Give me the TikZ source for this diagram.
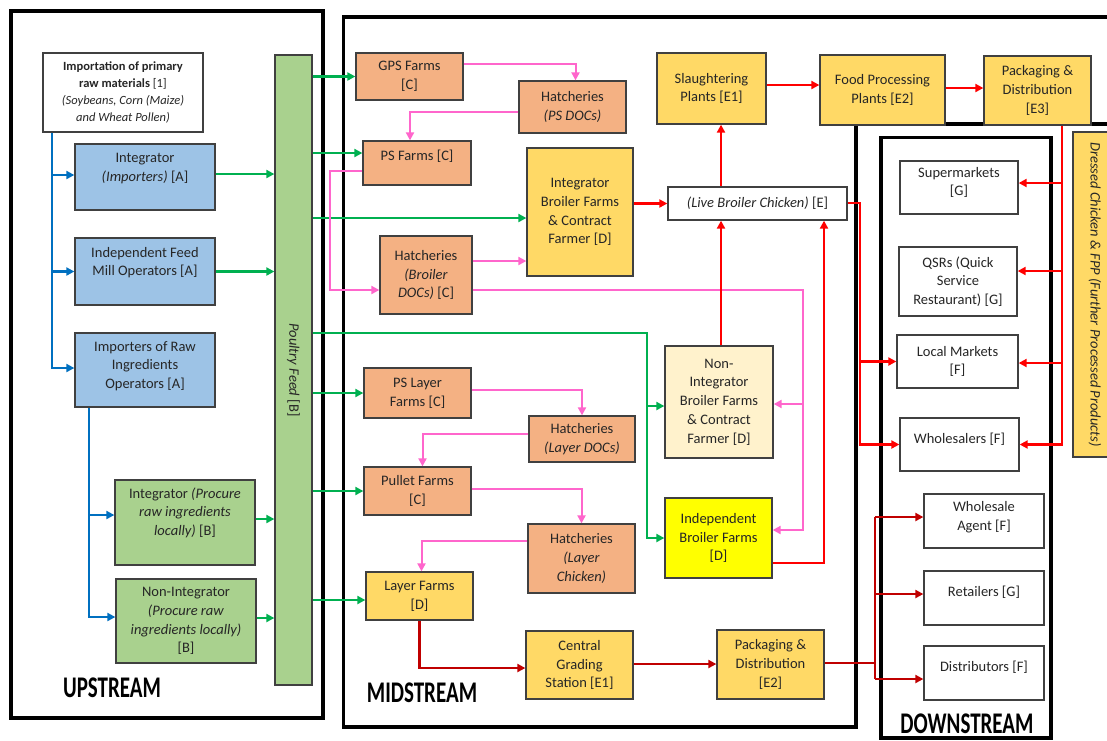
\documentclass[tikz,border=0pt]{standalone}
\usepackage{fontspec}
\setmainfont{Carlito}
\usepackage{graphicx}
\usepackage{tikz}
\usetikzlibrary{arrows.meta,calc}

\definecolor{txt}{HTML}{262626}
\definecolor{boxline}{HTML}{404040}
\definecolor{upblue}{HTML}{9DC3E6}
\definecolor{upgreen}{HTML}{A9D18E}
\definecolor{salmon}{HTML}{F4B183}
\definecolor{gold}{HTML}{FFD966}
\definecolor{cream}{HTML}{FFF2CC}
\definecolor{brightyellow}{HTML}{FFFF00}
\definecolor{feedgreen}{HTML}{00B050}
\definecolor{hatchpink}{HTML}{FF66CC}
\definecolor{flowblue}{HTML}{0070C0}
\definecolor{flowred}{HTML}{FF0000}
\definecolor{darkred}{HTML}{C00000}

\begin{document}
\begin{tikzpicture}[x=1pt,y=-1pt,
  every node/.style={font=\fontsize{14.5}{18.7}\selectfont, text=txt},
  box/.style={draw=boxline, line width=1.3pt, align=center, inner sep=2pt},
  raised/.style={text depth=#1},
  region/.style={line width=3.8pt},
  stage/.style={font=\fontsize{30}{30}\selectfont\bfseries, text=black},
  tip/.style={-{Triangle[length=8pt,width=8pt]}},
  blueline/.style={draw=flowblue, line width=2.2pt},
  greenline/.style={draw=feedgreen, line width=2.2pt},
  pinkline/.style={draw=hatchpink, line width=2pt},
  redline/.style={draw=flowred, line width=2.2pt},
  darkline/.style={draw=darkred, line width=2.2pt}]
\useasboundingbox[fill=white] (0,0) rectangle (1107,740);

\draw[region] (11,11) rectangle (323,718);
\draw[region] (1107,17) -- (343.5,17) -- (343.5,727) -- (856,727) -- (856,124) -- (1107,124);
\draw[region] (881,137.5) rectangle (1051,738);

\node[stage] (upstream) at (112,688) {\scalebox{0.7}[1]{UPSTREAM}};
\node[stage] (midstream) at (422,693) {\scalebox{0.7}[1]{MIDSTREAM}};
\node[stage] (downstream) at (967,724) {\scalebox{0.7}[1]{DOWNSTREAM}};

\node[box, fill=white, minimum width=160, minimum height=79, font=\fontsize{12.5}{17}\selectfont] (imp) at (123,92.5)
  {\textbf{Importation of primary}\\\textbf{raw materials} [1]\\\textit{(Soybeans, Corn (Maize)}\\\textit{and Wheat Pollen)}};
\node[box, raised=20pt, fill=upblue, minimum width=140, minimum height=66] (intA) at (145,177) {Integrator\\\textit{(Importers)} [A]};
\node[box, raised=20pt, fill=upblue, minimum width=140, minimum height=67] (feedA) at (145,271.5) {Independent Feed\\Mill Operators [A]};
\node[box, raised=10pt, fill=upblue, minimum width=140, minimum height=74] (rawA) at (145,370) {Importers of Raw\\Ingredients\\Operators [A]};
\node[box, raised=22pt, fill=upgreen, minimum width=140, minimum height=85] (intB) at (185,522.5) {Integrator \textit{(Procure}\\\textit{raw ingredients}\\\textit{locally)} [B]};
\node[box, fill=upgreen, minimum width=140, minimum height=84] (nonB) at (186,621) {Non-Integrator\\\textit{(Procure raw}\\\textit{ingredients locally)}\\{[B]}};
\node[box, fill=upgreen, minimum width=37, minimum height=630] (feed) at (293.5,370) {\rotatebox{-90}{\textit{Poultry Feed} [B]}};

\node[box, fill=salmon, minimum width=107, minimum height=47] (gps) at (409.5,76.5) {GPS Farms\\{[C]}};
\node[box, fill=salmon, minimum width=107, minimum height=52] (hps) at (572.5,107) {Hatcheries\\\textit{(PS DOCs)}};
\node[box, raised=16pt, fill=salmon, minimum width=108, minimum height=44] (psf) at (417,163) {PS Farms [C]};
\node[box, fill=gold, minimum width=106, minimum height=128] (ibf) at (580,212) {Integrator\\Broiler Farms\\\& Contract\\Farmer [D]};
\node[box, fill=salmon, minimum width=92, minimum height=78] (hbd) at (426,275) {Hatcheries\\\textit{(Broiler}\\\textit{DOCs)} [C]};
\node[box, fill=salmon, minimum width=107, minimum height=50] (pslf) at (417.5,393) {PS Layer\\Farms [C]};
\node[box, fill=salmon, minimum width=106, minimum height=46] (hld) at (582,439) {Hatcheries\\\textit{(Layer DOCs)}};
\node[box, fill=salmon, minimum width=107, minimum height=48] (pul) at (417.5,491) {Pullet Farms\\{[C]}};
\node[box, fill=salmon, minimum width=107, minimum height=69] (hlc) at (581.5,558.5) {Hatcheries\\\textit{(Layer}\\\textit{Chicken)}};
\node[box, fill=gold, minimum width=107, minimum height=48] (lay) at (419.5,596) {Layer Farms\\{[D]}};
\node[box, fill=gold, minimum width=107, minimum height=68] (cgs) at (579.5,665) {Central\\Grading\\Station [E1]};
\node[box, fill=gold, minimum width=107, minimum height=69] (pd2) at (770.5,664.5) {Packaging \&\\Distribution\\{[E2]}};
\node[box, fill=gold, minimum width=109, minimum height=71] (sp) at (711.5,88.5) {Slaughtering\\Plants [E1]};
\node[box, fill=gold, minimum width=125, minimum height=70] (fpp) at (882.5,90) {Food Processing\\Plants [E2]};
\node[box, fill=gold, minimum width=107, minimum height=69] (pd3) at (1037.5,90.5) {Packaging \&\\Distribution\\{[E3]}};
\node[box, fill=white, minimum width=179, minimum height=33] (lbc) at (757.5,203.5) {\textit{(Live Broiler Chicken)} [E]};
\node[box, fill=cream, minimum width=108, minimum height=112] (npi) at (719,402) {Non-\\Integrator\\Broiler Farms\\\& Contract\\Farmer [D]};
\node[box, fill=brightyellow, minimum width=107, minimum height=80] (ibfm) at (718.5,538) {Independent\\Broiler Farms\\{[D]}};

\node[box, raised=12pt, fill=white, minimum width=118, minimum height=53] (sm) at (959,187.5) {Supermarkets\\{[G]}};
\node[box, fill=white, minimum width=118, minimum height=69] (qsr) at (958,281.5) {QSRs (Quick\\Service\\Restaurant) [G]};
\node[box, fill=white, minimum width=121, minimum height=53] (lm) at (957.5,361.5) {Local Markets\\{[F]}};
\node[box, raised=13pt, fill=white, minimum width=119, minimum height=53] (ws) at (959.5,444.5) {Wholesalers [F]};
\node[box, raised=10pt, fill=white, minimum width=120, minimum height=54] (wa) at (984,521) {Wholesale\\Agent [F]};
\node[box, raised=14pt, fill=white, minimum width=120, minimum height=54] (ret) at (984,598) {Retailers [G]};
\node[box, raised=14pt, fill=white, minimum width=120, minimum height=54] (dist) at (984,673) {Distributors [F]};
\node[box, fill=gold, minimum width=44, minimum height=325] (dcf) at (1095,294.5) {\rotatebox{-90}{\textit{Dressed Chicken \& FPP (Further Processed Products)}}};

\coordinate (bj1) at ([xshift=10]imp.south west);
\coordinate (bj2) at ([xshift=15]rawA.south west);
\draw[blueline, tip] (bj1) |- (0,368 -| rawA.west);
\draw[blueline, tip] (bj1 |- 0,175) -- (intA.west |- 0,175);
\draw[blueline, tip] (bj1 |- feedA.west) -- (feedA.west);
\draw[blueline, tip] (bj2) |- (nonB.west |- 0,617);
\draw[blueline, tip] (bj2 |- 0,515) -- (intB.west |- 0,515);

\draw[greenline, tip] (intA.east |- 0,174) -- (feed.west |- 0,174);
\draw[greenline, tip] (feedA.east) -- (feedA.east -| feed.west);
\draw[greenline, tip] (intB.east |- 0,519) -- (feed.west |- 0,519);
\draw[greenline, tip] (nonB.east |- 0,618) -- (feed.west |- 0,618);
\draw[greenline, tip] (feed.east |- gps.west) -- (gps.west);
\draw[greenline, tip] (feed.east |- 0,153) -- (psf.west |- 0,153);
\draw[greenline, tip] (feed.east |- 0,218) -- (ibf.west |- 0,218);
\coordinate (gj) at (647,333);
\draw[greenline, tip] (feed.east |- gj) -- (gj) |- (ibfm.west);
\draw[greenline, tip] (gj |- 0,406) -- (npi.west |- 0,406);
\draw[greenline, tip] (feed.east |- pslf.west) -- (pslf.west);
\draw[greenline, tip] (feed.east |- pul.west) -- (pul.west);
\draw[greenline, tip] (feed.east |- 0,600) -- (lay.west |- 0,600);

\draw[pinkline, tip] (gps.east |- 0,64) -| ([xshift=3]hps.north);
\draw[pinkline, tip] (hps.west |- 0,112) -| ([xshift=-7]psf.north);
\draw[pinkline, tip] (psf.west |- 0,171) -- ++(-32,0) |- (hbd.west |- 0,290);
\draw[pinkline, tip] (hbd.east |- 0,261) -- (ibf.west |- 0,261);
\coordinate (pj) at (803,290);
\draw[pinkline, tip] (hbd.east |- pj) -- (pj) |- (ibfm.east |- 0,530);
\draw[pinkline, tip] (pj |- 0,404) -- (npi.east |- 0,404);
\draw[pinkline, tip] (pslf.east |- 0,390) -| (hld.north);
\draw[pinkline, tip] (hld.west |- 0,434) -| ([xshift=5]pul.north);
\draw[pinkline, tip] (pul.east |- 0,489) -| (hlc.north);
\draw[pinkline, tip] (hlc.west |- 0,541) -| ([xshift=2]lay.north);

\draw[redline, tip] (ibf.east |- lbc.west) -- (lbc.west);
\draw[redline, tip] (lbc.north -| 721,0) -- (sp.south -| 721,0);
\draw[redline, tip] (npi.north -| 721,0) -- (lbc.south -| 721,0);
\draw[redline, tip] (ibfm.east |- 0,563) -| (lbc.south -| 824,0);
\draw[redline, tip] (sp.east |- 0,85) -- (fpp.west |- 0,85);
\draw[redline, tip] (fpp.east |- 0,88) -- (pd3.west |- 0,88);
\coordinate (rj) at (860,203);
\draw[redline, tip] (lbc.east |- rj) -- (rj) |- (ws.west);
\draw[redline, tip] (rj |- lm.west) -- (lm.west);
\coordinate (rk) at (pd3.south -| 1062,0);
\draw[redline, tip] (rk) |- (ws.east);
\draw[redline, tip] (rk |- 0,183) -- (sm.east |- 0,183);
\draw[redline, tip] (rk |- 0,271) -- (qsr.east |- 0,271);
\draw[redline, tip] (rk |- 0,363) -- (lm.east |- 0,363);

\draw[darkline, tip] (lay.south) |- (cgs.west |- 0,668);
\draw[darkline, tip] (cgs.east |- 0,664) -- (pd2.west |- 0,664);
\coordinate (dj) at (875,663);
\draw[darkline] (pd2.east |- dj) -- (dj);
\draw[darkline] (dj |- 0,517) -- (dj |- 0,679);
\draw[darkline, tip] (dj |- 0,517) -- (wa.west |- 0,517);
\draw[darkline, tip] (dj |- 0,594) -- (ret.west |- 0,594);
\draw[darkline, tip] (dj |- 0,679) -- (dist.west |- 0,679);
\end{tikzpicture}
\end{document}
